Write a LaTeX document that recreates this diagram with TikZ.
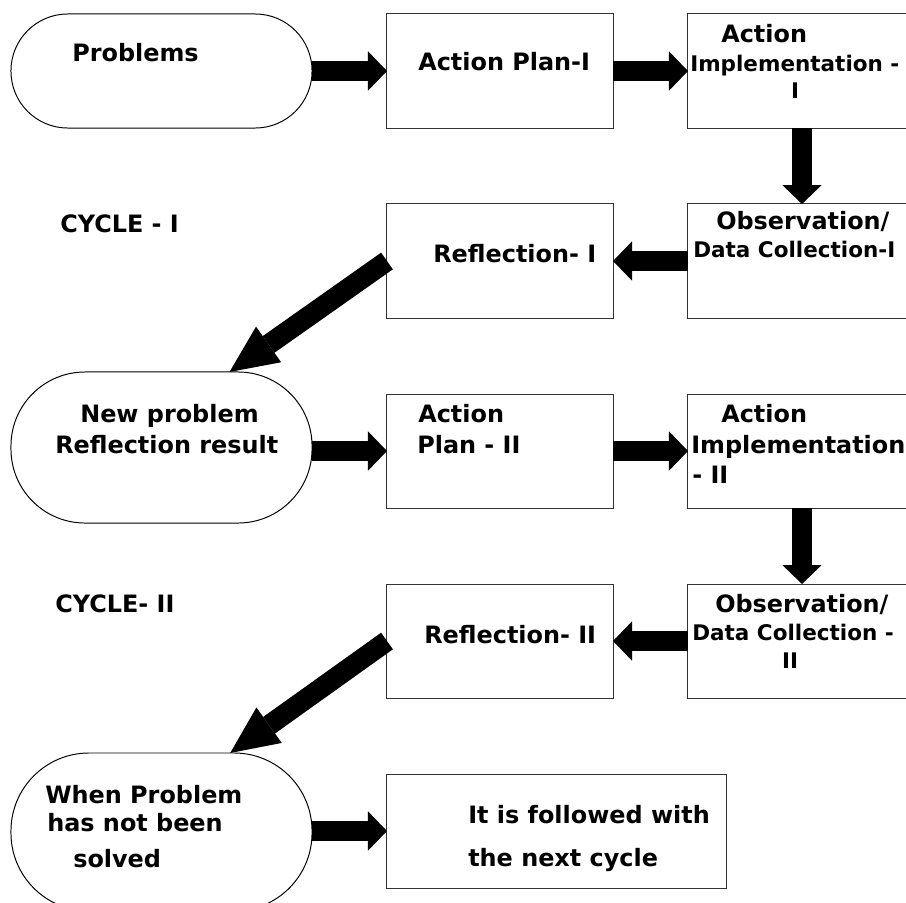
\documentclass[tikz,border=0pt]{standalone}
\usepackage{fontspec}
\setmainfont{DejaVu Sans}
\usetikzlibrary{arrows.meta}

\begin{document}
\begin{tikzpicture}[x=0.025cm,y=-0.025cm]
\tikzset{box/.style={draw=black!80,line width=0.7pt,inner sep=0pt,outer sep=0pt,minimum width=5.65cm,minimum height=2.85cm},
  stad/.style={draw,line width=0.7pt,inner sep=0pt,outer sep=0pt,minimum width=7.525cm},
  txt/.style={font=\bfseries\fontsize{17}{20}\selectfont,inner sep=0pt,anchor=base west},
  smalltxt/.style={txt,font=\bfseries\fontsize{15.3}{18}\selectfont},
  fat/.style={line width=14pt,-{Triangle[length=13.5pt,width=28pt,line width=0pt]}},
  diag/.style={line width=14.5pt,-{Triangle[length=34pt,width=31pt,line width=0pt]}}};
   \useasboundingbox (0,0) rectangle (906,902);

   % cycle I
   \node[stad,minimum height=2.85cm,rounded corners=1.42cm] at (161.5,71) (prob) {};
   \node[box] at (500,71) (plan1) {};
   \node[box,minimum width=5.7cm] at (802,71) (impl1) {};
   \node[box,minimum width=5.7cm] at (802,261) (obs1) {};
   \node[box] at (500,261) (refl1) {};

   % cycle II
   \node[stad,minimum height=3.775cm,rounded corners=1.85cm] at (161.5,447.5) (newprob) {};
   \node[box] at (500,451) (plan2) {};
   \node[box,minimum width=5.7cm] at (802,451) (impl2) {};
   \node[box,minimum width=5.7cm] at (802,641) (obs2) {};
   \node[box] at (500,641) (refl2) {};

   \node[stad,minimum height=3.95cm,rounded corners=1.95cm] at (161.5,832) (unsolved) {};
   \node[box,minimum width=8.475cm] at (556.5,831) (next) {};

   % texts
   \node[txt] at (72,61) (prob-t) {Problems};
   \node[txt] at (418,70) (plan1-t) {Action Plan-I};
   \node[txt] at (721,42) (impl1-a) {Action};
   \node[smalltxt] at (690,71) (impl1-b) {Implementation -};
   \node[smalltxt,anchor=base] at (795,98) (impl1-c) {I};
   \node[txt] at (716,229) (obs1-a) {Observation/};
   \node[smalltxt] at (693,257) (obs1-b) {Data Collection-I};
   \node[txt] at (433,262) (refl1-t) {Reflection- I};
   \node[txt] at (60,232) (cyc1) {CYCLE - I};

   \node[txt] at (80,422) (newprob-a) {New problem};
   \node[txt] at (55,453) (newprob-b) {Reflection result};
   \node[txt] at (418,422) (plan2-a) {Action};
   \node[txt] at (417,453) (plan2-b) {Plan - II};
   \node[txt] at (721,422) (impl2-a) {Action};
   \node[txt] at (691,453) (impl2-b) {Implementation};
   \node[txt] at (692,483) (impl2-c) {- II};
   \node[txt] at (715,612) (obs2-a) {Observation/};
   \node[smalltxt] at (692,640) (obs2-b) {Data Collection -};
   \node[smalltxt,anchor=base] at (790,668) (obs2-c) {II};
   \node[txt] at (424,643) (refl2-t) {Reflection- II};
   \node[txt] at (55,612) (cyc2) {CYCLE- II};

   \node[txt] at (45,803) (unsolved-a) {When Problem};
   \node[txt] at (47,831) (unsolved-b) {has not been};
   \node[txt] at (73,867) (unsolved-c) {solved};
   \node[txt] at (468,823) (next-a) {It is followed with};
   \node[txt] at (468,866) (next-b) {the next cycle};

   % arrows
   \draw[fat] (prob.east) -- (plan1.west);
   \draw[fat] (plan1.east) -- (impl1.west);
   \draw[fat] (impl1.south) -- (obs1.north);
   \draw[fat] (obs1.west) -- (refl1.east);
   \draw[diag] (refl1.west) -- (newprob.48);
   \draw[fat] (newprob.east |- plan2.west) -- (plan2.west);
   \draw[fat] (plan2.east) -- (impl2.west);
   \draw[fat] (impl2.south) -- (obs2.north);
   \draw[fat] (obs2.west) -- (refl2.east);
   \draw[diag] (refl2.west) -- (unsolved.49);
   \draw[fat] (unsolved.east |- next.west) -- (next.west);

\end{tikzpicture}
\end{document}
